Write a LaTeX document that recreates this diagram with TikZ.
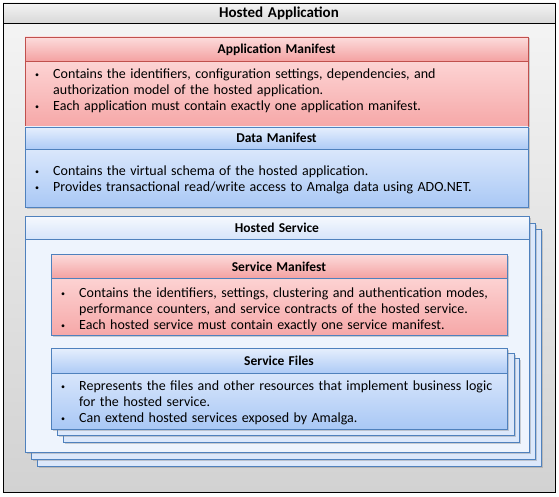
\documentclass[tikz,border=0pt]{standalone}
\usepackage{fontspec}
\setmainfont{Carlito}[WordSpace=1.4]
\usetikzlibrary{shadows}

\definecolor{bgtop}{HTML}{F5F5F5}
\definecolor{bgbot}{HTML}{D2D2D2}
\definecolor{bartop}{HTML}{F4F4F4}
\definecolor{barbot}{HTML}{D8D8D8}
\definecolor{mfred}{HTML}{C0504D}
\definecolor{mfblue}{HTML}{4F81BD}
\definecolor{redheadtop}{HTML}{FCDCDC}
\definecolor{redheadbot}{HTML}{F4A2A2}
\definecolor{redbodytop}{HTML}{FFE4E4}
\definecolor{redbodybot}{HTML}{F6A8A8}
\definecolor{blueheadtop}{HTML}{E6EFFD}
\definecolor{blueheadbot}{HTML}{AECBF6}
\definecolor{bluebodytop}{HTML}{EDF3FE}
\definecolor{bluebodybot}{HTML}{A9C8F5}
\definecolor{svcheadtop}{HTML}{F6F9FE}
\definecolor{svcheadbot}{HTML}{D6E4FA}
\definecolor{svcbody}{HTML}{EEF4FD}
\definecolor{layerfill}{HTML}{DCE8FB}

\tikzset{
	outerbox/.style={draw=black, line width=0.8pt, top color=bgtop, bottom color=bgbot},
	outerbar/.style={draw=black, line width=0.8pt, top color=bartop, bottom color=barbot},
	redbody/.style={draw=mfred, line width=0.8pt, top color=redbodytop, bottom color=redbodybot,
		drop shadow={shadow xshift=1.5pt, shadow yshift=-1.5pt, opacity=0.35}},
	redhead/.style={draw=mfred, line width=0.8pt, top color=redheadtop, bottom color=redheadbot},
	bluebody/.style={draw=mfblue, line width=0.8pt, top color=bluebodytop, bottom color=bluebodybot,
		drop shadow={shadow xshift=1.5pt, shadow yshift=-1.5pt, opacity=0.35}},
	bluehead/.style={draw=mfblue, line width=0.8pt, top color=blueheadtop, bottom color=blueheadbot},
	svcbody/.style={draw=mfblue, line width=0.8pt, fill=svcbody,
		drop shadow={shadow xshift=1.5pt, shadow yshift=-1.5pt, opacity=0.35}},
	svchead/.style={draw=mfblue, line width=0.8pt, top color=svcheadtop, bottom color=svcheadbot},
	layer/.style={draw=mfblue, line width=0.8pt, fill=layerfill,
		drop shadow={shadow xshift=1.5pt, shadow yshift=-1.5pt, opacity=0.35}},
	apptitle/.style={font=\fontsize{15}{16}\selectfont\bfseries, inner sep=0pt},
	boxtitle/.style={font=\fontsize{13.5}{16}\selectfont\bfseries, inner sep=0pt},
	bodytext/.style={anchor=north west, inner sep=0pt, align=left}
}
\newcommand{\bul}{\raisebox{1pt}{\fontsize{8}{8}\selectfont\textbullet}}

\begin{document}
\begin{tikzpicture}[x=1pt, y=-1pt, font=\fontsize{14}{16}\selectfont]
	\useasboundingbox (0,0) rectangle (559,497);
	
	%Hosted Application
	\draw[outerbox] (3,3) rectangle (555,492);
	\draw[outerbar] (3,3) rectangle (555,23);
	\node[apptitle] (appTitle) at (279,13.5) {Hosted Application};
	
	%Application Manifest
	\draw[redbody] (25,37) rectangle (528,126);
	\draw[redhead] (25,37) rectangle (528,61);
	\node[boxtitle] (amTitle) at (276.5,49.5) {Application Manifest};
	\node[bodytext] (amText) at (35,67) {\begin{tabular}{@{}p{18pt}@{}l@{}}
		\bul & Contains the identifiers, configuration settings, dependencies, and\\
		& authorization model of the hosted application.\\
		\bul & Each application must contain exactly one application manifest.
	\end{tabular}};
	
	%Data Manifest
	\draw[bluebody] (25,127) rectangle (528,207);
	\draw[bluehead] (25,127) rectangle (528,149);
	\node[boxtitle] (dmTitle) at (276.5,138) {Data Manifest};
	\node[bodytext] (dmText) at (35,164) {\begin{tabular}{@{}p{18pt}@{}l@{}}
		\bul & Contains the virtual schema of the hosted application.\\
		\bul & Provides transactional read/write access to Amalga data using ADO.NET.
	\end{tabular}};
	
	%Hosted Service (stacked)
	\draw[layer] (37,229) rectangle (541,466);
	\draw[layer] (31,223) rectangle (535,459);
	\draw[svcbody] (25,216) rectangle (529,452);
	\draw[svchead] (25,216) rectangle (529,239);
	\node[boxtitle] (hsTitle) at (277,228) {Hosted Service};
	
	%Service Manifest
	\draw[redbody, draw=mfblue] (51,254) rectangle (507,335);
	\draw[redhead, draw=mfblue] (51,254) rectangle (507,278);
	\node[boxtitle] (smTitle) at (279,266.5) {Service Manifest};
	\node[bodytext] (smText) at (61,286) {\begin{tabular}{@{}p{18pt}@{}l@{}}
		\bul & Contains the identifiers, settings, clustering and authentication modes,\\
		& performance counters, and service contracts of the hosted service.\\
		\bul & Each hosted service must contain exactly one service manifest.
	\end{tabular}};
	
	%Service Files (stacked)
	\draw[layer] (63,358) rectangle (519,442);
	\draw[layer] (57,353) rectangle (514,435);
	\draw[bluebody] (51,348) rectangle (507,429);
	\draw[bluehead] (51,348) rectangle (507,373);
	\node[boxtitle] (sfTitle) at (279,360.5) {Service Files};
	\node[bodytext] (sfText) at (61,379) {\begin{tabular}{@{}p{18pt}@{}l@{}}
		\bul & Represents the files and other resources that implement business logic\\
		& for the hosted service.\\
		\bul & Can extend hosted services exposed by Amalga.
	\end{tabular}};
\end{tikzpicture}
\end{document}
